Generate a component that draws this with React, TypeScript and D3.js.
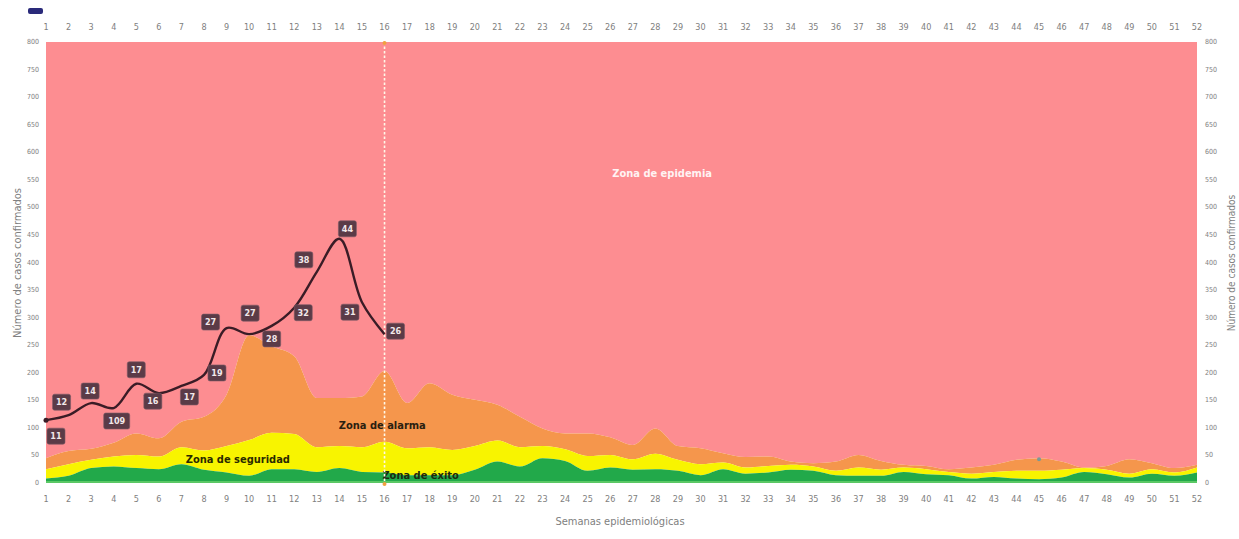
import React, { useEffect, useRef } from 'react';
import * as d3 from 'd3';

// Semanas epidemiológicas
const semanas: number[] = [
    1, 2, 3, 4, 5, 6, 7, 8, 9, 10, 11, 12, 13, 14, 15, 16, 17, 18, 19, 20, 21, 22, 23, 24, 25, 26,
    27, 28, 29, 30, 31, 32, 33, 34, 35, 36, 37, 38, 39, 40, 41, 42, 43, 44, 45, 46, 47, 48, 49, 50, 51, 52,
];

// Upper limit of each zone (canal endémico)
const zonaExito: number[] = [
    8, 13, 27, 30, 27, 25, 34, 24, 19, 13, 25, 25, 20, 27, 20, 19, 14, 14, 14, 24, 39, 30, 45, 40, 22, 28,
    24, 25, 22, 14, 25, 17, 19, 24, 22, 14, 13, 13, 20, 16, 14, 8, 11, 8, 7, 10, 20, 16, 10, 17, 13, 19,
];
const zonaSeguridad: number[] = [
    25, 34, 42, 48, 51, 48, 65, 59, 67, 78, 91, 89, 65, 67, 65, 75, 63, 65, 60, 67, 77, 65, 67, 61, 49, 51,
    43, 53, 42, 34, 37, 28, 31, 33, 30, 22, 28, 24, 28, 25, 20, 17, 20, 22, 22, 24, 27, 24, 17, 25, 19, 28,
];
const zonaAlarma: number[] = [
    45, 58, 62, 73, 90, 81, 111, 120, 160, 268, 248, 230, 154, 154, 157, 203, 145, 181, 160, 151, 142, 120,
    99, 90, 90, 83, 69, 99, 67, 63, 54, 47, 48, 39, 36, 39, 51, 40, 33, 31, 25, 28, 33, 42, 45, 39, 28, 31,
    43, 36, 27, 33,
];
const zonaEpidemia = 800;

// Casos confirmados (semanas 1-16) and their box labels
const casos: number[] = [114, 123, 145, 136, 180, 163, 176, 196, 281, 270, 285, 318, 383, 443, 328, 270];
const etiquetas: string[] = ['11', '12', '14', '109', '17', '16', '17', '19', '27', '27', '28', '32', '38', '44', '31', '26'];

const yTicks: number[] = [0, 50, 100, 150, 200, 250, 300, 350, 400, 450, 500, 550, 600, 650, 700, 750, 800];
const semanaActual = 16;

// label box offsets from each point, px
const labelOffsets: [number, number][] = [
    [10, 16], [-7, -13], [-1, -12], [3, 13], [0, -14], [-6, 8], [8, 11], [13, -2],
    [-16, -6], [1, -21], [0, 13], [9, 5], [-13, -12], [8, -10], [-12, 10], [11, -3],
];

const W = 1239;
const H = 539;

const App: React.FC = () => {
    const svgRef = useRef<SVGSVGElement | null>(null);

    useEffect(() => {
        if (!svgRef.current) return;
        const svg = d3.select(svgRef.current);
        svg.selectAll('*').remove();

        const x = d3.scaleLinear().domain([1, 52]).range([46, 1197]);
        const y = d3.scaleLinear().domain([0, 800]).range([483, 42]);
        const font = "'Liberation Sans Narrow', 'DejaVu Sans Condensed', 'Open Sans', sans-serif";
        const tickColor = '#808080';

        const rows = semanas.map((s, i) => ({
            s,
            exito: zonaExito[i],
            seguridad: zonaSeguridad[i],
            alarma: zonaAlarma[i],
        }));

        const band = (lo: (d: typeof rows[0]) => number, hi: (d: typeof rows[0]) => number) =>
            d3.area<typeof rows[0]>()
                .x(d => x(d.s))
                .y0(d => y(lo(d)))
                .y1(d => y(hi(d)))
                .curve(d3.curveMonotoneX);

        const zones = svg.append('g').attr('class', 'zones');
        zones.append('path').datum(rows)
            .attr('d', band(d => d.alarma, () => zonaEpidemia))
            .attr('fill', '#fd8d91');
        zones.append('path').datum(rows)
            .attr('d', band(d => d.seguridad, d => d.alarma))
            .attr('fill', '#f5964c');
        zones.append('path').datum(rows)
            .attr('d', band(d => d.exito, d => d.seguridad))
            .attr('fill', '#f8f400');
        zones.append('path').datum(rows)
            .attr('d', band(() => 0, d => d.exito))
            .attr('fill', '#22a94a');
        zones.append('line')
            .attr('x1', x(1)).attr('x2', x(52))
            .attr('y1', y(0) - 1).attr('y2', y(0) - 1)
            .attr('stroke', '#6fd36f').attr('stroke-width', 1.5);

        // zone names
        const zoneText = [
            { t: 'Zona de epidemia', s: 28.3, v: 562, c: '#fff3f3' },
            { t: 'Zona de alarma', s: 15.9, v: 104, c: '#2a2010' },
            { t: 'Zona de seguridad', s: 9.5, v: 42, c: '#2a2a00' },
            { t: 'Zona de éxito', s: 17.6, v: 13, c: '#1d2a10' },
        ];
        svg.append('g').selectAll('text').data(zoneText).enter().append('text')
            .attr('x', d => x(d.s)).attr('y', d => y(d.v))
            .attr('text-anchor', 'middle').attr('dominant-baseline', 'central')
            .attr('font-family', font).attr('font-size', 11).attr('font-weight', 'bold')
            .attr('fill', d => d.c).text(d => d.t);

        // current week marker
        svg.append('line')
            .attr('x1', x(semanaActual)).attr('x2', x(semanaActual))
            .attr('y1', y(800)).attr('y2', y(0))
            .attr('stroke', '#fff8e8').attr('stroke-width', 1.6)
            .attr('stroke-dasharray', '2.5,2');
        svg.append('circle').attr('cx', x(semanaActual)).attr('cy', y(800) + 1).attr('r', 2).attr('fill', '#f0a040');
        svg.append('circle').attr('cx', x(semanaActual)).attr('cy', y(0) + 1).attr('r', 2).attr('fill', '#f0a040');

        // stray marker near week 45
        svg.append('circle').attr('cx', x(45)).attr('cy', y(43)).attr('r', 2).attr('fill', '#7a9a98');

        // cases line
        const line = d3.line<number>()
            .x((_, i) => x(semanas[i]))
            .y(d => y(d))
            .curve(d3.curveCatmullRom.alpha(0.5));
        svg.append('path').datum(casos)
            .attr('d', line)
            .attr('fill', 'none').attr('stroke', '#3a1c26')
            .attr('stroke-width', 2.4).attr('stroke-linejoin', 'round');
        svg.append('circle').attr('cx', x(1)).attr('cy', y(casos[0])).attr('r', 2.5).attr('fill', '#3a1c26');

        const labels = svg.append('g').attr('class', 'labels').selectAll('g')
            .data(casos).enter().append('g')
            .attr('transform', (d, i) => `translate(${x(semanas[i]) + labelOffsets[i][0]},${y(d) + labelOffsets[i][1]})`);
        labels.append('rect')
            .attr('x', (_, i) => -(etiquetas[i].length > 2 ? 13 : 9))
            .attr('y', -8)
            .attr('width', (_, i) => (etiquetas[i].length > 2 ? 26 : 18))
            .attr('height', 16).attr('rx', 2)
            .attr('fill', '#5b3b47').attr('stroke', '#7a5a66').attr('stroke-width', 0.6);
        labels.append('text')
            .attr('text-anchor', 'middle').attr('dominant-baseline', 'central')
            .attr('font-family', font).attr('font-size', 9).attr('font-weight', 'bold')
            .attr('fill', '#f2e8ea').text((_, i) => etiquetas[i]);

        // x tick labels top and bottom
        [27, 499].forEach(ty => {
            svg.append('g').selectAll('text').data(semanas).enter().append('text')
                .attr('x', d => x(d)).attr('y', ty)
                .attr('text-anchor', 'middle').attr('dominant-baseline', 'central')
                .attr('font-family', font).attr('font-size', 9).attr('fill', tickColor)
                .text(d => d);
        });

        // y tick labels both sides
        svg.append('g').selectAll('text').data(yTicks).enter().append('text')
            .attr('x', 39).attr('y', d => y(d))
            .attr('text-anchor', 'end').attr('dominant-baseline', 'central')
            .attr('font-family', font).attr('font-size', 7).attr('fill', tickColor)
            .text(d => d);
        svg.append('g').selectAll('text').data(yTicks).enter().append('text')
            .attr('x', 1205).attr('y', d => y(d))
            .attr('text-anchor', 'start').attr('dominant-baseline', 'central')
            .attr('font-family', font).attr('font-size', 7).attr('fill', tickColor)
            .text(d => d);

        // axis titles
        svg.append('text')
            .attr('transform', 'translate(17,263) rotate(-90)')
            .attr('text-anchor', 'middle').attr('dominant-baseline', 'central')
            .attr('font-family', font).attr('font-size', 11).attr('fill', tickColor)
            .text('Número de casos confirmados');
        svg.append('text')
            .attr('transform', 'translate(1231,263) rotate(-90)')
            .attr('text-anchor', 'middle').attr('dominant-baseline', 'central')
            .attr('font-family', font).attr('font-size', 10).attr('fill', tickColor)
            .text('Número de casos confirmados');
        svg.append('text')
            .attr('x', 620).attr('y', 521)
            .attr('text-anchor', 'middle').attr('dominant-baseline', 'central')
            .attr('font-family', font).attr('font-size', 11).attr('fill', tickColor)
            .text('Semanas epidemiológicas');

        // clipped title remnant
        svg.append('rect').attr('x', 28).attr('y', 8).attr('width', 15).attr('height', 6)
            .attr('rx', 2).attr('fill', '#2a2a7a');
    }, []);

    return (
        <svg
            ref={svgRef}
            width={W}
            height={H}
            style={{ position: 'absolute', left: 0, top: 0, background: '#fff' }}
        />
    );
};

export default App;
